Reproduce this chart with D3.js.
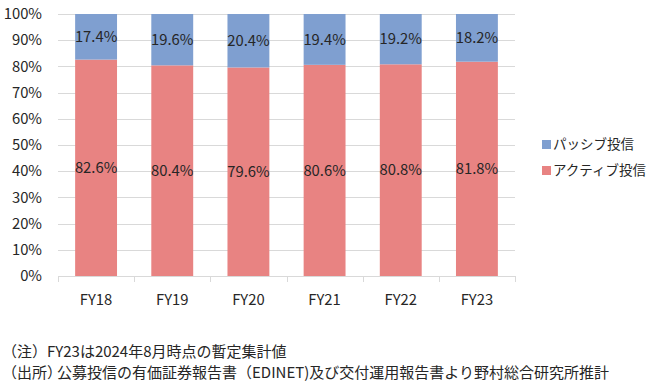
<!DOCTYPE html>
<html><head><meta charset="utf-8">
<script src="https://cdn.jsdelivr.net/npm/d3@7"></script>
<style>body{margin:0;background:#fff}svg{display:block}</style>
</head><body>
<svg id="c" width="646" height="388"></svg>
<script>
const categories = ["FY18","FY19","FY20","FY21","FY22","FY23"];
const active = [82.6,80.4,79.6,80.6,80.8,81.8];
const passive = [17.4,19.6,20.4,19.4,19.2,18.2];
const seriesNames = ["パッシブ投信","アクティブ投信"];
const yTicks = [0,10,20,30,40,50,60,70,80,90,100];
const notes = [["（注）","FY23は2024年8月時点の暫定集計値"],["（出所）","公募投信の有価証券報告書（EDINET)及び交付運用報告書より野村総合研究所推計"]];

const font = "'Noto Sans CJK JP','Noto Sans',sans-serif";
const svg = d3.select("#c").style("font-family", font);
const m = {l:58, r:515, t:14, b:276};
const x = d3.scaleBand().domain(categories).range([m.l, m.r]).paddingInner(0.45).paddingOuter(0.225);
const y = d3.scaleLinear().domain([0,100]).range([m.b, m.t]);
const blue = "#7f9fd0", red = "#e88382", txt = "#262626";
const fs = 14.8;

// gridlines
svg.append("g").selectAll("line").data(yTicks.filter(d=>d>0)).join("line")
  .attr("x1", m.l).attr("x2", m.r).attr("y1", d=>Math.round(y(d))+0.5).attr("y2", d=>Math.round(y(d))+0.5)
  .attr("stroke", "#d9d9d9").attr("stroke-width", 1);

// y labels
svg.append("g").selectAll("text").data(yTicks).join("text")
  .attr("x", 42).attr("y", d=>y(d)).attr("dy","0.35em").attr("text-anchor","end")
  .attr("font-size", fs).attr("fill", txt).text(d=>d+"%");

// bars
const data = categories.map((c,i)=>({c, a:active[i], p:passive[i]}));
svg.append("g").selectAll("rect").data(data).join("rect")
  .attr("x", d=>x(d.c)).attr("width", x.bandwidth())
  .attr("y", d=>y(d.a)).attr("height", d=>y(0)-y(d.a)).attr("fill", red);
svg.append("g").selectAll("rect").data(data).join("rect")
  .attr("x", d=>x(d.c)).attr("width", x.bandwidth())
  .attr("y", d=>y(d.a+d.p)).attr("height", d=>y(d.a)-y(d.a+d.p)).attr("fill", blue);

// value labels
svg.append("g").selectAll("text").data(data).join("text")
  .attr("x", d=>x(d.c)+x.bandwidth()/2).attr("y", d=>y(d.a/2)).attr("dy","0.35em")
  .attr("text-anchor","middle").attr("font-size",fs).attr("fill",txt).text(d=>d.a.toFixed(1)+"%");
svg.append("g").selectAll("text").data(data).join("text")
  .attr("x", d=>x(d.c)+x.bandwidth()/2).attr("y", d=>y(d.a+d.p/2)).attr("dy","0.35em")
  .attr("text-anchor","middle").attr("font-size",fs).attr("fill",txt).text(d=>d.p.toFixed(1)+"%");

// x axis
svg.append("line").attr("x1",m.l).attr("x2",m.r).attr("y1",m.b+0.5).attr("y2",m.b+0.5).attr("stroke","#d9d9d9");
svg.append("g").selectAll("line").data(d3.range(categories.length+1)).join("line")
  .attr("x1", i=>Math.round(m.l+i*(m.r-m.l)/categories.length)+0.5).attr("x2", i=>Math.round(m.l+i*(m.r-m.l)/categories.length)+0.5)
  .attr("y1", m.b).attr("y2", m.b+6).attr("stroke","#d9d9d9");
svg.append("g").selectAll("text").data(categories).join("text")
  .attr("x", d=>x(d)+x.bandwidth()/2).attr("y", 300).attr("dy","0.35em")
  .attr("text-anchor","middle").attr("font-size",fs).attr("fill",txt).text(d=>d);

// legend
const lg = svg.append("g");
[[seriesNames[0], blue, 144],[seriesNames[1], red, 170]].forEach(([n,c,yy])=>{
  lg.append("rect").attr("x",542).attr("y",yy-4).attr("width",9).attr("height",9).attr("fill",c);
  lg.append("text").attr("x",553).attr("y",yy).attr("dy","0.35em").attr("font-size",13.5).attr("fill",txt).text(n);
});

// notes
notes.forEach(([a,b],i)=>{
  const yy = 352 + i*21;
  svg.append("text").attr("x",2).attr("y",yy).attr("dy","0.35em").attr("font-size",15).attr("fill",txt).text(a);
  svg.append("text").attr("x", i===0?47:57).attr("y",yy).attr("dy","0.35em").attr("font-size",15).attr("fill",txt).text(b);
});
</script>
</body></html>
